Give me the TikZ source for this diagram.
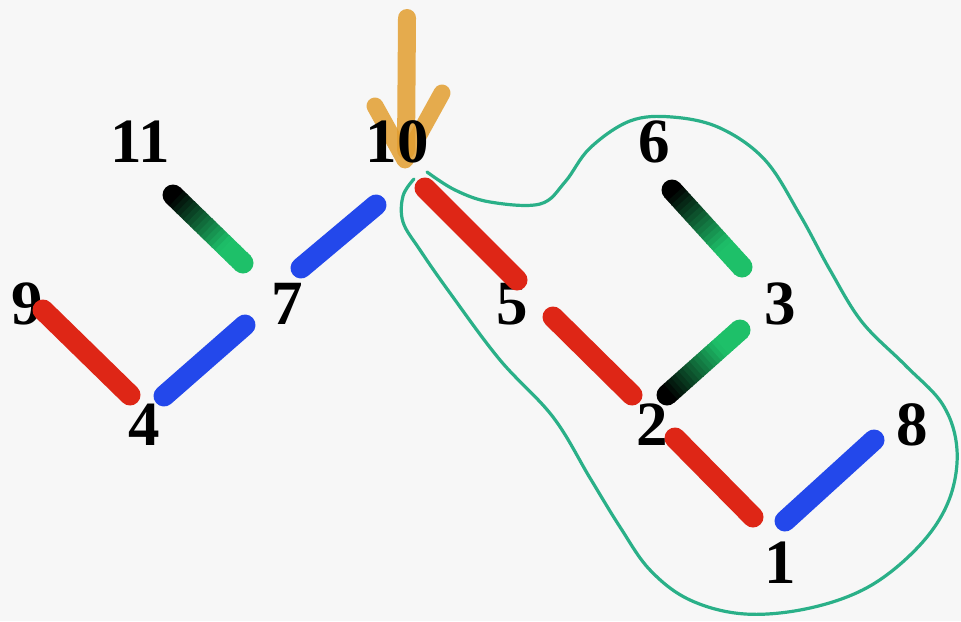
\documentclass[tikz,border=0pt]{standalone}
\usepackage{fontspec}
\setmainfont{Liberation Serif}
\usetikzlibrary{calc}

\definecolor{mkred}{RGB}{222,38,22}
\definecolor{mkblue}{RGB}{35,72,235}
\definecolor{mkgreen}{RGB}{30,192,105}
\definecolor{loopgreen}{RGB}{42,176,136}
\definecolor{arrowgold}{RGB}{226,158,48}

\begin{document}
\begin{tikzpicture}[
    x=0.5pt, y=-0.5pt,
    num/.style={font=\fontsize{31.5}{31.5}\selectfont\bfseries, inner sep=0pt},
    marker/.style={line width=10.5pt, line cap=round},
    lasso/.style={draw=loopgreen, line width=1.6pt, line cap=round}
]
\useasboundingbox[fill=black!3] (0,0) rectangle (961,621);

% pointer arrow
\draw[arrowgold, line width=9pt, line cap=round, opacity=0.85] (407,18) -- (406,150);
\draw[arrowgold, line width=8.5pt, line cap=round, line join=round, opacity=0.85]
    (375,106) -- (405,160) -- (442,93);

% numbers
\node[num] (n11) at (140,142) {11};
\node[num] (n10) at (397,142) {10};
\node[num] (n6)  at (654,142) {6};
\node[num] (n9)  at (27,304)  {9};
\node[num] (n7)  at (287,304) {7};
\node[num] (n5)  at (512,304) {5};
\node[num] (n3)  at (780,304) {3};
\node[num] (n4)  at (144,425) {4};
\node[num] (n2)  at (652,425) {2};
\node[num] (n8)  at (912,425) {8};
\node[num] (n1)  at (780,563) {1};

% plain marker strokes
\foreach \xa/\ya/\xb/\yb/\c in {
    43/310/130/395/mkred, 164/396/245/325/mkblue, 301/268/376/205/mkblue,
    425/188/517/280/mkred, 553/317/632/395/mkred, 675/438/753/517/mkred,
    785/521/874/440/mkblue}
  \draw[marker, draw=\c] (\xa,\ya) -- (\xb,\yb);

% shaded strokes, dark end first
\foreach \xa/\ya/\xb/\yb in {173/195/243/263, 672/190/742/267, 667/395/740/330} {
  \fill[black] (\xa,\ya) circle[radius=5.25pt];
  \fill[mkgreen] (\xb,\yb) circle[radius=5.25pt];
  \foreach \i in {0,...,19} {
    \pgfmathsetmacro\ta{\i/20}
    \pgfmathsetmacro\tb{(\i+1.2)/20}
    \pgfmathtruncatemacro\p{min(100,\i*7)}
    \draw[marker, line cap=butt, draw=mkgreen!\p!black]
      ($(\xa,\ya)!\ta!(\xb,\yb)$) -- ($(\xa,\ya)!\tb!(\xb,\yb)$);
  }
}

% lasso round the right part
\draw[lasso] plot[smooth, tension=0.6] coordinates {
  (427,172) (455,190) (490,202) (540,204) (565,182) (590,148) (630,121)
  (672,117) (720,128) (765,160) (800,215) (830,270) (862,322) (905,365)
  (943,405) (957,450) (949,500) (920,545) (870,586) (810,608) (745,614)
  (690,600) (650,570) (620,527) (590,478) (553,417) (500,360) (450,293)
  (420,250) (403,222) (403,196) (414,179)};

\end{tikzpicture}
\end{document}
